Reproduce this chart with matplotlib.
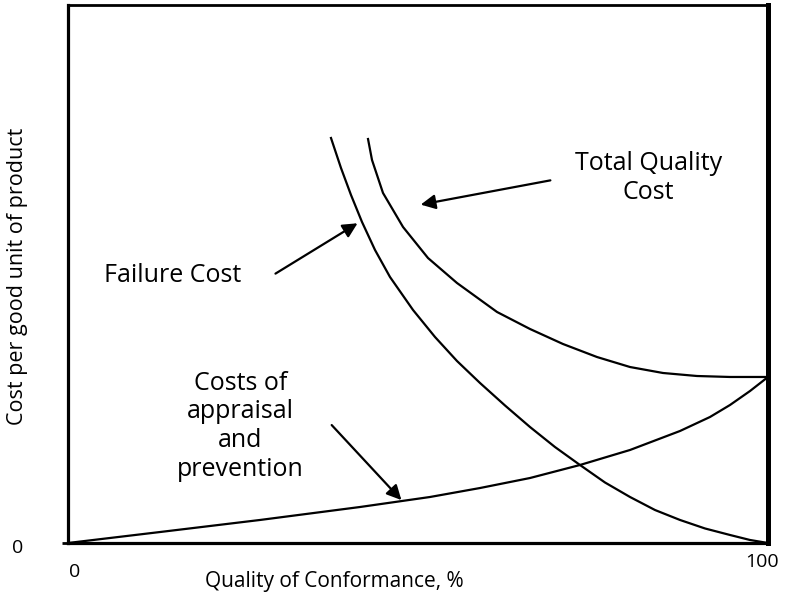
import matplotlib.pyplot as plt
from matplotlib import rc
rc('font', family="Open Sans")

# curves (x = quality of conformance %, y = cost on a 0..100 scale)
failure_x = [37.57, 39.0, 40.43, 42.0, 43.86, 46.0, 49.29, 52.43, 55.57, 58.86, 62.43,
             66.0, 69.57, 73.14, 76.71, 80.29, 83.86, 87.43, 91.0, 94.57, 97.43, 100]
failure_y = [75.28, 69.70, 64.68, 59.67, 54.46, 49.44, 43.31, 38.29, 33.83, 29.74, 25.56,
             21.56, 17.84, 14.50, 11.25, 8.55, 6.13, 4.28, 2.70, 1.49, 0.56, 0]

total_x = [42.86, 43.43, 45.0, 47.86, 51.43, 55.57, 61.29, 66.0, 70.71, 75.57, 80.29,
           85.0, 89.86, 94.57, 100]
total_y = [75.09, 71.19, 65.06, 58.74, 52.97, 48.33, 42.94, 39.78, 36.99, 34.57, 32.71,
           31.60, 31.04, 30.86, 30.86]

appraisal_x = [0, 13.14, 27.43, 41.71, 51.71, 58.86, 66.0, 73.14, 80.29, 87.43, 91.71,
               94.57, 97.43, 100]
appraisal_y = [0, 2.04, 4.28, 6.69, 8.55, 10.22, 12.08, 14.50, 17.29, 20.82, 23.42,
               25.65, 28.25, 30.86]

W, H = 787, 598
fig = plt.figure(figsize=(W / 100, H / 100), dpi=100)
ax = fig.add_axes([68 / W, 1 - 543 / H, 700 / W, 538 / H])

for xs, ys in [(failure_x, failure_y), (total_x, total_y), (appraisal_x, appraisal_y)]:
    ax.plot(xs, ys, 'k-', lw=1.6, solid_joinstyle='round')

ax.set_xlim(0, 100)
ax.set_ylim(0, 100)
ax.set_xticks([])
ax.set_yticks([0])
ax.set_yticklabels([''])
ax.tick_params(axis='y', length=4, width=2)
ax.spines['left'].set_linewidth(2.3)
ax.spines['bottom'].set_linewidth(2.3)
ax.spines['top'].set_linewidth(2.0)
ax.spines['right'].set_linewidth(3.6)

arrow = dict(arrowstyle='-|>', mutation_scale=22, lw=1.6, color='black')
ax.annotate('', xy=(50.0, 62.8), xytext=(69.3, 67.5), arrowprops=arrow)
ax.annotate('', xy=(41.7, 59.7), xytext=(29.3, 49.8), arrowprops=arrow)
ax.annotate('', xy=(47.9, 7.6), xytext=(37.4, 22.3), arrowprops=arrow)

fs = 18
ax.text(82.9, 67.8, 'Total Quality\nCost', ha='center', va='center', fontsize=fs, linespacing=1.2)
ax.text(15.0, 49.8, 'Failure Cost', ha='center', va='center', fontsize=fs)
ax.text(24.6, 21.7, 'Costs of\nappraisal\nand\nprevention', ha='center', va='center',
        fontsize=fs, linespacing=1.2)

# tick labels and axis labels placed like in the original drawing
fig.text(18 / W, 1 - 548 / H, '0', ha='center', va='center', fontsize=14)
fig.text(75 / W, 1 - 572 / H, '0', ha='center', va='center', fontsize=14)
fig.text(762 / W, 1 - 562 / H, '100', ha='center', va='center', fontsize=14)
fig.text(334 / W, 1 - 581 / H, 'Quality of Conformance, %', ha='center', va='center', fontsize=15)
fig.text(18 / W, 1 - 276 / H, 'Cost per good unit of product', ha='center', va='center',
         rotation=90, fontsize=15.5)

plt.savefig('out.png', dpi=100)
